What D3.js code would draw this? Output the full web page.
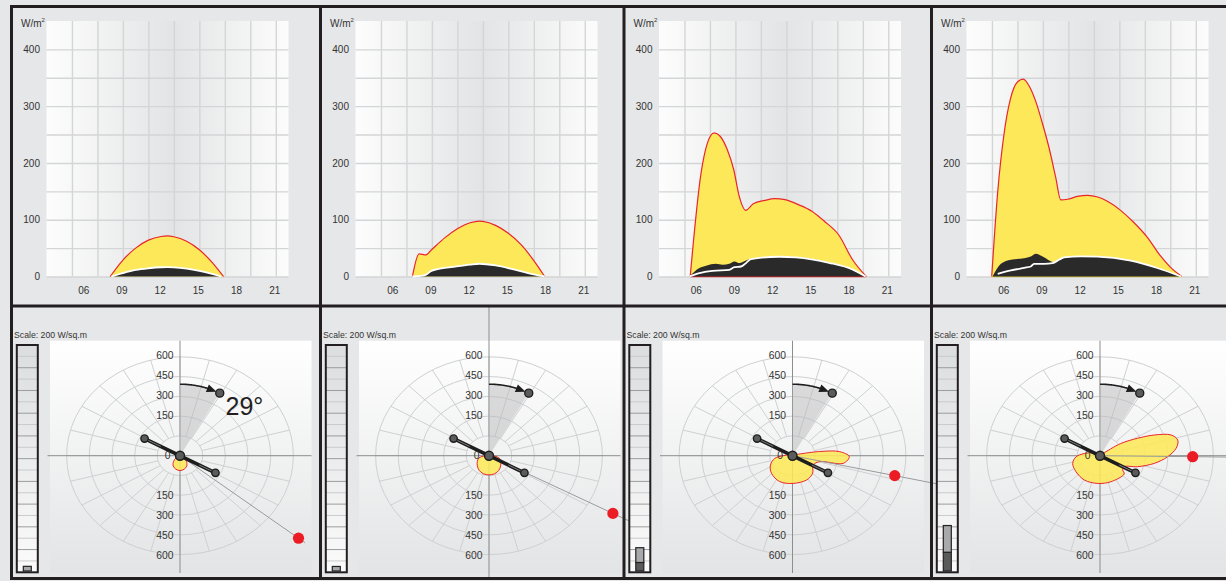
<!DOCTYPE html>
<html>
<head>
<meta charset="utf-8">
<script src="https://cdn.jsdelivr.net/npm/d3@7"></script>
<style>
  html, body { margin: 0; padding: 0; background: #e6e7e8; }
  svg { display: block; font-family: "Liberation Sans", Arial, sans-serif; }
</style>
</head>
<body>
<svg id="chart" width="1226" height="581"></svg>
<script>
// ---------- axis ticks ----------
const hourTicks = [6, 9, 12, 15, 18, 21];
const hourLabels = ["06", "09", "12", "15", "18", "21"];
const hourGrid = [5, 7, 9, 11, 13, 15, 17, 19, 21];
const irrTicks = [0, 100, 200, 300, 400];
const irrGrid = [0, 50, 100, 150, 200, 250, 300, 350, 400];
const ringValues = [0, 150, 300, 450, 600];
const ringLabelsUp = ["150", "300", "450", "600"];
const ringLabelsDown = ["150", "300", "450", "600"];

// ---------- daily irradiance (W/m²) ----------
// panel 1
const totalHours1 = [8.0, 9, 10, 11, 12, 12.5, 13, 14, 15, 16, 16.9];
const totalVals1  = [0, 29, 50, 64, 70.5, 71.5, 70, 62, 47, 25, 0];
const diffHours1  = [8.1, 9, 10, 11, 12, 12.5, 13, 14, 15, 16, 16.7];
const diffVals1   = [0, 6, 11.5, 14.5, 16.3, 16.5, 16.2, 14, 10, 4.5, 0];
const skyHours1   = [8.1, 9, 10, 11, 12, 12.5, 13, 14, 15, 16, 16.7];
const skyVals1    = [0, 6, 11.5, 14.5, 16.3, 16.5, 16.2, 14, 10, 4.5, 0];
// panel 2
const totalHours2 = [7.47, 7.99, 8.52, 8.91, 10, 11, 12, 12.73, 13, 14, 15, 16, 17, 17.85];
const totalVals2  = [0, 40, 38, 45.8, 68, 84, 94.6, 97.5, 97, 90, 76, 56, 28, 0];
const diffHours2  = [7.47, 8.3, 8.6, 8.91, 9.44, 10.5, 12, 12.73, 14, 15.24, 16.55, 17.85];
const diffVals2   = [0, 1.5, 4, 9.4, 13, 16.4, 21, 22.5, 19.5, 13.5, 6, 0];
const skyHours2   = [7.47, 8.3, 8.6, 8.91, 9.44, 10.5, 12, 12.73, 14, 15.24, 16.55, 17.85];
const skyVals2    = [0, 1.5, 4, 9.4, 13, 16.4, 21, 22.5, 19.5, 13.5, 6, 0];
// panel 3
const totalHours3 = [5.45, 6.3, 6.8, 7.33, 7.8, 8.35, 8.87, 9.3, 9.8, 10.4, 11.3, 12.1, 12.9, 13.9, 15, 16, 17.1, 18.2, 19.27];
const totalVals3  = [0, 182, 235, 253, 247, 224, 188, 141, 116.5, 128, 134, 137, 135.5, 127, 115, 97, 73.5, 29.5, 0];
const diffHours3  = [5.39, 6.17, 6.7, 7.48, 8.0, 8.52, 8.92, 9.31, 9.83, 10.22, 12.44, 13.75, 16.35, 18.18, 19.23];
const diffVals3   = [0, 14.8, 19, 22.4, 20.6, 22.4, 26.5, 23.6, 28.2, 31.2, 35.3, 34.2, 24.7, 13, 0];
const skyHours3   = [5.39, 6.17, 7.22, 8.52, 8.92, 9.44, 9.83, 10.22, 12.44, 13.75, 16.35, 18.18, 19.23];
const skyVals3    = [0, 6, 10, 11.8, 16.5, 17.6, 23.6, 30.6, 34.8, 33.7, 24.2, 12.5, 0];
// panel 4
const totalHours4 = [4.98, 5.45, 5.97, 6.44, 7.02, 7.46, 7.93, 8.45, 8.97, 9.5, 10, 10.4, 10.93, 11.7, 12.5, 13.3, 14.1, 15.1, 16.1, 17.2, 18.2, 19, 19.9];
const totalVals4  = [0, 149, 255, 312, 343, 347.6, 335, 307.5, 269, 225, 175, 135, 136, 141, 143, 140, 132, 116.5, 96, 69, 37, 16.5, 0];
const diffHours4  = [5.05, 5.7, 6.49, 7.53, 8.05, 8.45, 8.97, 9.88, 10.27, 10.66, 11.97, 13.28, 15.89, 17.98, 19.85];
const diffVals4   = [0, 22.4, 29.5, 32.3, 35.3, 40, 35.3, 25.2, 29.5, 34, 35.8, 35.3, 28.2, 15.3, 0];
const skyHours4   = [5.45, 6.49, 7.53, 8.05, 8.3, 9.1, 9.75, 10.27, 10.66, 11.97, 13.28, 15.89, 17.98, 19.85];
const skyVals4    = [4.7, 10.6, 15.3, 17.6, 22.4, 22.4, 23.5, 29.5, 33.6, 35.4, 34.9, 27.8, 15, 0];

// ---------- directional irradiance (azimuth °, W/m²) ----------
const blobAz1   = [0, 100, 120, 135, 150, 165, 180, 195, 210, 225, 240, 260];
const blobVals1 = [4, 4, 35, 79, 119, 141, 150, 141, 119, 79, 35, 4];
const blobAz2   = [0, 80, 95, 105, 120, 135, 150, 165, 180, 195, 210, 225, 240, 255, 265, 280];
const blobVals2 = [9, 18, 53, 93, 119, 145, 172, 189, 194, 189, 172, 145, 119, 93, 53, 18];
const blobAz3   = [0, 40, 65, 75, 80, 84.4, 91, 99.8, 104, 117, 135, 153, 179, 203, 226, 244, 260, 270, 285, 320];
const blobVals3 = [18, 18, 26, 70, 244, 418, 500, 454, 248, 205, 251, 275, 280, 285, 257, 216, 159, 82, 35, 18];
const blobAz4   = [0, 30, 48, 56, 62, 66.4, 71.5, 77, 83.7, 91, 99.2, 108.5, 117.4, 125.8, 131, 160, 184, 209, 232.7, 252, 267, 279, 301, 330];
const blobVals4 = [18, 18, 35, 220, 375, 522, 660, 703, 674, 596, 485, 350, 241, 247, 282, 280, 281, 282, 266, 253, 211, 140, 58, 18];

// surface tilt / orientation and sun marker per panel
const tiltDeg = 29;
const surfaceAz = [119, 119, 119, 119];
const sunAz = [128.6, 118.1, 102.6, 90.7];
const sunDist = [853, 779, 543, 463];

// daily totals shown in the side gauge
const gaugeDiffuse = [0, 0, 0.75, 1.65];
const gaugeDirect  = [0.41, 0.4, 1.3, 2.35];

// ---------- layout ----------
const svg = d3.select("#chart");
const panelX = [11.5, 320.5, 624, 931.5];
const K = 0.872; // vertical squash of the polar grid
const rad = d => d * Math.PI / 180;

const defs = svg.append("defs");
function grad(id, vertical, stops) {
  const g = defs.append("linearGradient").attr("id", id)
    .attr("x1", 0).attr("y1", 0).attr("x2", vertical ? 0 : 1).attr("y2", vertical ? 1 : 0);
  stops.forEach(s => g.append("stop").attr("offset", s[0]).attr("stop-color", s[1]));
}
grad("plotBg", false, [[0, "#fdfdfd"], [0.52, "#e3e4e5"], [1, "#fcfcfc"]]);
grad("polarBg", true, [[0, "#ffffff"], [1, "#e3e4e5"]]);
grad("gaugeBg", true, [[0, "#dcdddf"], [1, "#fbfbfb"]]);

const panels = [
  { total: [totalHours1, totalVals1], diff: [diffHours1, diffVals1], sky: [skyHours1, skyVals1], blob: [blobAz1, blobVals1], base: null },
  { total: [totalHours2, totalVals2], diff: [diffHours2, diffVals2], sky: [skyHours2, skyVals2], blob: [blobAz2, blobVals2], base: null },
  { total: [totalHours3, totalVals3], diff: [diffHours3, diffVals3], sky: [skyHours3, skyVals3], blob: [blobAz3, blobVals3], base: "#e8262d" },
  { total: [totalHours4, totalVals4], diff: [diffHours4, diffVals4], sky: [skyHours4, skyVals4], blob: [blobAz4, blobVals4], base: "#d9c23a" }
];
const zip = (a, b) => a.map((v, i) => [v, b[i]]);

// ---------- daily profile charts ----------
function drawProfile(i) {
  const px = panelX[i];
  const p = panels[i];
  const x = d3.scaleLinear().domain([3, 22]).range([px + 35, px + 277]);
  const y = d3.scaleLinear().domain([0, 450]).range([276.5, 21]);
  const g = svg.append("g");

  g.append("rect").attr("x", px + 35).attr("y", 21).attr("width", 242).attr("height", 256)
    .attr("fill", "url(#plotBg)");

  const gy = g.append("g").attr("transform", `translate(${px + 35},0)`)
    .call(d3.axisLeft(y).tickValues(irrGrid).tickSize(-242).tickFormat(""));
  const gx = g.append("g").attr("transform", `translate(0,21)`)
    .call(d3.axisBottom(x).tickValues(hourGrid).tickSize(255.5).tickFormat(""));
  [gy, gx].forEach(a => {
    a.select(".domain").remove();
    a.selectAll(".tick line").attr("stroke", "#d4d5d6").attr("stroke-width", 1.4);
  });

  const area = d3.area().x(d => x(d[0])).y0(y(0)).y1(d => y(d[1])).curve(d3.curveMonotoneX);
  const line = d3.line().x(d => x(d[0])).y(d => y(d[1])).curve(d3.curveMonotoneX);

  const tot = zip(p.total[0], p.total[1]);
  g.append("path").attr("d", area(tot)).attr("fill", "#fde85a");
  g.append("path").attr("d", line(tot)).attr("fill", "none").attr("stroke", "#e8262d").attr("stroke-width", 1.2);
  if (p.base) {
    g.append("path").attr("d", line([[p.total[0][0], 0], [p.total[0][p.total[0].length - 1], 0]]))
      .attr("stroke", p.base).attr("stroke-width", 1.4).attr("fill", "none");
  }
  const dif = zip(p.diff[0], p.diff[1]);
  g.append("path").attr("d", area(dif)).attr("fill", "#2b2a2a");
  const sky = zip(p.sky[0], p.sky[1]);
  g.append("path").attr("d", line(sky)).attr("fill", "none").attr("stroke", "#ffffff").attr("stroke-width", 1.8);

  // tick labels
  const ly = g.append("g").attr("transform", `translate(${px + 28.5},0)`)
    .call(d3.axisLeft(y).tickValues(irrTicks).tickSize(0).tickPadding(0));
  const lx = g.append("g").attr("transform", `translate(-1.5,290)`)
    .call(d3.axisBottom(x).tickValues(hourTicks).tickSize(0).tickPadding(0).tickFormat((d, j) => hourLabels[j]));
  [ly, lx].forEach(a => {
    a.select(".domain").remove();
    a.selectAll("text").attr("font-size", 10).attr("fill", "#333").attr("font-family", "Liberation Sans, Arial, sans-serif");
  });
  lx.selectAll("text").attr("dy", "0.35em").attr("y", 0);

  const unit = g.append("text").attr("x", px + 9.5).attr("y", 27).attr("font-size", 10).attr("fill", "#333");
  unit.append("tspan").text("W/m");
  unit.append("tspan").text("2").attr("font-size", 6).attr("dy", -5);
}

// ---------- polar charts ----------
function drawPolar(i) {
  const px = panelX[i];
  const p = panels[i];
  const cx = px + 168.5, cy = 455.7;
  const rScale = d3.scaleLinear().domain([0, 600]).range([22.7, 113.4]);
  const blobScale = d3.scaleLinear().domain([0, 200]).range([0, 22.7]);
  const pt = (az, r) => [cx + r * Math.sin(rad(az)), cy - r * Math.cos(rad(az)) * K];
  const g = svg.append("g");

  // caption
  g.append("text").attr("x", px + 2.5).attr("y", 338).attr("font-size", 8.7).attr("fill", "#333")
    .text("Scale: 200 W/sq.m");

  // side gauge
  const gx0 = px + 5.3, gw = 21, gy0 = 345, gh = 227.3;
  g.append("rect").attr("x", gx0).attr("y", gy0).attr("width", gw).attr("height", gh).attr("fill", "url(#gaugeBg)");
  const gaugeScale = d3.scaleLinear().domain([0, 20]).range([gy0 + gh, gy0]);
  for (let t = 1; t < 20; t++) {
    g.append("line").attr("x1", gx0).attr("x2", gx0 + gw)
      .attr("y1", gaugeScale(t)).attr("y2", gaugeScale(t))
      .attr("stroke", t % 2 ? "#c9cacb" : "#9a9b9c").attr("stroke-width", 1);
  }
  const barBase = gy0 + gh - 1.3;
  const bx = gx0 + gw / 2 - 4;
  const hD = gaugeScale(0) - gaugeScale(gaugeDiffuse[i]);
  const hL = gaugeScale(0) - gaugeScale(gaugeDirect[i]);
  if (gaugeDiffuse[i] > 0) {
    g.append("rect").attr("x", bx).attr("y", barBase - hD).attr("width", 8).attr("height", hD)
      .attr("fill", "#5a5a5a").attr("stroke", "#222").attr("stroke-width", 1.2);
  }
  g.append("rect").attr("x", bx).attr("y", barBase - hD - hL).attr("width", 8).attr("height", hL)
    .attr("fill", "#a8a9aa").attr("stroke", "#222").attr("stroke-width", 1.2);
  g.append("rect").attr("x", gx0).attr("y", gy0).attr("width", gw).attr("height", gh)
    .attr("fill", "none").attr("stroke", "#231f20").attr("stroke-width", 2);

  // polar background
  g.append("rect").attr("x", px + 38.5).attr("y", 340.7).attr("width", 261.5).attr("height", 232.3)
    .attr("fill", "url(#polarBg)");

  const sq = g.append("g").attr("transform", `translate(${cx},${cy}) scale(1,${K})`);
  // rings
  sq.selectAll("circle.ring").data(ringValues).join("circle")
    .attr("r", d => rScale(d)).attr("fill", "none")
    .attr("stroke", "#cfd0d1").attr("stroke-width", 1).attr("vector-effect", "non-scaling-stroke");
  // spokes
  const spokes = d3.range(0, 360, 15);
  sq.selectAll("line.spoke").data(spokes).join("line")
    .attr("x1", d => rScale(0) * Math.sin(rad(d))).attr("y1", d => -rScale(0) * Math.cos(rad(d)))
    .attr("x2", d => rScale(600) * Math.sin(rad(d))).attr("y2", d => -rScale(600) * Math.cos(rad(d)))
    .attr("stroke", "#cfd0d1").attr("stroke-width", 1).attr("vector-effect", "non-scaling-stroke");

  // axes
  const axTop = i === 1 ? 305 : 340.7;
  const axBot = i === 1 ? 578 : 573;
  g.append("line").attr("x1", px + 36).attr("x2", px + 300).attr("y1", cy).attr("y2", cy)
    .attr("stroke", "#8d8e8f").attr("stroke-width", 1);
  g.append("line").attr("x1", cx).attr("x2", cx).attr("y1", axTop).attr("y2", axBot)
    .attr("stroke", "#8d8e8f").attr("stroke-width", 1);

  // tilt wedge
  const sq2 = g.append("g").attr("transform", `translate(${cx},${cy}) scale(1,${K})`);
  sq2.append("path")
    .attr("d", d3.arc()({ innerRadius: 0, outerRadius: 82, startAngle: 0, endAngle: rad(tiltDeg) }))
    .attr("fill", "#b9babb").attr("opacity", 0.5);

  // directional irradiance
  const blobPts = zip(p.blob[0], p.blob[1]);
  sq2.append("path")
    .attr("d", d3.lineRadial().angle(d => rad(d[0])).radius(d => blobScale(d[1]))
      .curve(d3.curveCatmullRomClosed.alpha(0.5))(blobPts))
    .attr("fill", "#fde85a").attr("fill-opacity", 0.88)
    .attr("stroke", "#e8262d").attr("stroke-width", 1).attr("vector-effect", "non-scaling-stroke");

  // sun direction
  const sEnd = pt(sunAz[i], 160);
  g.append("line").attr("x1", cx).attr("y1", cy).attr("x2", sEnd[0]).attr("y2", sEnd[1])
    .attr("stroke", "#9a9b9c").attr("stroke-width", 1);

  // surface orientation
  const a = pt(surfaceAz[i], 40.5), b = pt(surfaceAz[i] + 180, 40.5);
  g.append("line").attr("x1", a[0]).attr("y1", a[1]).attr("x2", b[0]).attr("y2", b[1])
    .attr("stroke", "#1d1d1d").attr("stroke-width", 3.6).attr("stroke-linecap", "round");
  [[surfaceAz[i], 22, 37], [surfaceAz[i] + 180, 22, 37]].forEach(s => {
    const u = pt(s[0], s[1]), v = pt(s[0], s[2]);
    g.append("line").attr("x1", u[0]).attr("y1", u[1]).attr("x2", v[0]).attr("y2", v[1])
      .attr("stroke", "#7a7a7a").attr("stroke-width", 1);
  });

  // tilt arrow
  const arcPts = d3.range(0, 21, 1).map(az => pt(az, 82));
  g.append("path").attr("d", d3.line().curve(d3.curveCatmullRom)(arcPts))
    .attr("fill", "none").attr("stroke", "#1d1d1d").attr("stroke-width", 1.6);
  const tip = pt(26.5, 82), b1 = pt(19.5, 77.5), b2 = pt(19.5, 86.5);
  g.append("path").attr("d", `M${tip[0]},${tip[1]}L${b1[0]},${b1[1]}L${b2[0]},${b2[1]}Z`).attr("fill", "#1d1d1d");

  // markers
  const mk = (pos, r) => g.append("circle").attr("cx", pos[0]).attr("cy", pos[1]).attr("r", r)
    .attr("fill", "#5b5b5b").attr("stroke", "#1d1d1d").attr("stroke-width", 1.4);
  mk(pt(tiltDeg, 82), 4);
  mk(a, 3.7);
  mk(b, 3.7);
  mk([cx, cy], 4.5);

  // sun marker
  const sp = pt(sunAz[i], rScale(sunDist[i]));
  g.append("circle").attr("cx", sp[0]).attr("cy", sp[1]).attr("r", 5.6).attr("fill", "#ec1c24");

  // ring labels
  const lab = g.append("g").attr("font-size", 10.3).attr("fill", "#333").attr("text-anchor", "end");
  ringValues.slice(1).forEach((v, j) => {
    lab.append("text").attr("x", cx - 6.5).attr("y", cy - rScale(v) * K - 1).attr("dy", "0.35em").text(ringLabelsUp[j]);
    lab.append("text").attr("x", cx - 6.5).attr("y", cy + rScale(v) * K + 0.5).attr("dy", "0.35em").text(ringLabelsDown[j]);
  });
  lab.append("text").attr("x", cx - 9.5).attr("y", cy).attr("dy", "0.35em").text("0");

  if (i === 0) {
    g.append("text").attr("x", cx + 45.5).attr("y", 415).attr("font-size", 25).attr("fill", "#231f20")
      .text(tiltDeg + "°");
  }
}

for (let i = 0; i < 4; i++) { drawProfile(i); }
for (let i = 0; i < 4; i++) { drawPolar(i); }

// ---------- frame ----------
const frame = svg.append("g").attr("stroke", "#231f20").attr("stroke-width", 3);
[6.5, 306, 578.5].forEach(yy => frame.append("line").attr("x1", 10).attr("x2", 1226).attr("y1", yy).attr("y2", yy));
panelX.forEach(xx => frame.append("line").attr("x1", xx).attr("x2", xx).attr("y1", 5).attr("y2", 580));
</script>
</body>
</html>
